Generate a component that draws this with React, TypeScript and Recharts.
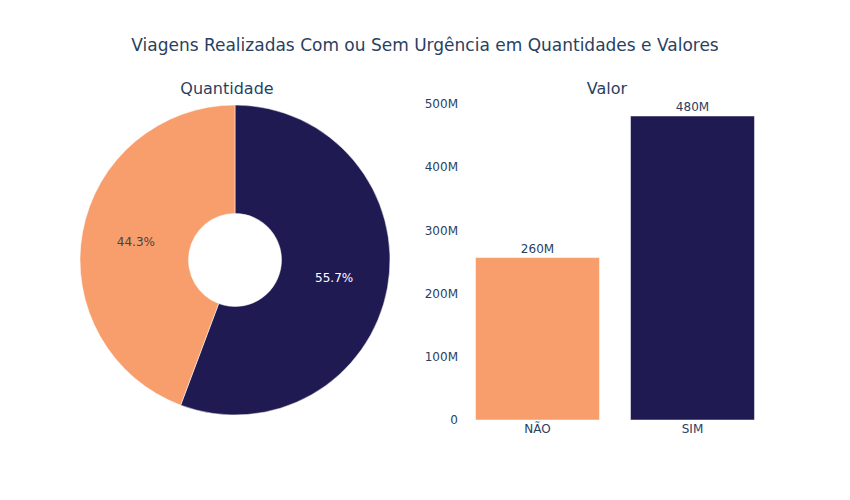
import React from "react";
import { PieChart, Pie, Cell, BarChart, Bar, XAxis, YAxis, LabelList } from "recharts";

const categories = ["SIM", "NÃO"];
const quantityShare = [55.7, 44.3];
const barCategories = ["NÃO", "SIM"];
const barValues = [257e6, 481e6];
const yTicks = [0, 100e6, 200e6, 300e6, 400e6, 500e6];

const NAVY = "#1f1a51";
const ORANGE = "#f89e6c";
const TEXT = "#2a3f5f";
const FONT = "'DejaVu Sans', Verdana, sans-serif";

const colorFor = (c: string) => (c === "SIM" ? NAVY : ORANGE);

const pieData = categories.map((c, i) => ({ name: c, value: quantityShare[i] }));
const barData = barCategories.map((c, i) => ({ name: c, value: barValues[i] }));

const RAD = Math.PI / 180;
const renderPieLabel = (p: any) => {
  const { cx, cy, midAngle, innerRadius, outerRadius, percent, index } = p;
  const r = (innerRadius + outerRadius) / 2;
  const x = cx + r * Math.cos(-midAngle * RAD);
  const y = cy + r * Math.sin(-midAngle * RAD);
  const name = pieData[index].name;
  return (
    <text
      x={x}
      y={y}
      textAnchor="middle"
      dominantBaseline="central"
      fill={name === "SIM" ? "#ffffff" : "#444444"}
      fontSize={12}
      fontFamily={FONT}
    >
      {(percent * 100).toFixed(1) + "%"}
    </text>
  );
};

const fmtTick = (v: number) => (v === 0 ? "0" : v / 1e6 + "M");
const fmtLabel = (v: any) => Number((Number(v) / 1e6).toPrecision(2)) + "M";

export default function App() {
  return (
    <div style={{ position: "absolute", left: 0, top: 0, width: 850, height: 500, background: "#fff", fontFamily: FONT }}>
      <div style={{ position: "absolute", left: 0, top: 0 }}>
        <PieChart width={850} height={500} margin={{ top: 0, right: 0, bottom: 0, left: 0 }}>
          <Pie
            data={pieData}
            dataKey="value"
            nameKey="name"
            cx={235}
            cy={260}
            innerRadius={46.5}
            outerRadius={155}
            startAngle={90}
            endAngle={-270}
            stroke="#ffffff"
            strokeWidth={0.5}
            label={renderPieLabel}
            labelLine={false}
            isAnimationActive={false}
          >
            {pieData.map((d) => (
              <Cell key={d.name} fill={colorFor(d.name)} />
            ))}
          </Pie>
        </PieChart>
      </div>
      <div style={{ position: "absolute", left: 0, top: 0 }}>
        <BarChart
          width={850}
          height={500}
          data={barData}
          margin={{ top: 104, right: 80, bottom: 50, left: 400 }}
          barCategoryGap="10%"
        >
          <XAxis
            dataKey="name"
            axisLine={false}
            tickLine={false}
            height={30}
            tickSize={0}
            tickMargin={4}
            tick={{ fill: TEXT, fontSize: 12, fontFamily: FONT }}
          />
          <YAxis
            domain={[0, 500e6]}
            ticks={yTicks}
            tickFormatter={fmtTick}
            axisLine={false}
            tickLine={false}
            width={60}
            tickSize={0}
            tickMargin={2}
            tick={{ fill: TEXT, fontSize: 12, fontFamily: FONT }}
          />
          <Bar dataKey="value" isAnimationActive={false} stroke="#ffffff" strokeWidth={0.5}>
            {barData.map((d) => (
              <Cell key={d.name} fill={colorFor(d.name)} />
            ))}
            <LabelList
              dataKey="value"
              position="top"
              offset={5}
              formatter={fmtLabel}
              style={{ fill: TEXT, fontSize: 12, fontFamily: FONT }}
            />
          </Bar>
        </BarChart>
      </div>
      <svg width={850} height={500} style={{ position: "absolute", left: 0, top: 0, pointerEvents: "none" }}>
        <text x={425} y={51} textAnchor="middle" fill={TEXT} fontSize={17} fontFamily={FONT}>
          Viagens Realizadas Com ou Sem Urgência em Quantidades e Valores
        </text>
        <text x={227} y={94} textAnchor="middle" fill={TEXT} fontSize={16} fontFamily={FONT}>
          Quantidade
        </text>
        <text x={607} y={94} textAnchor="middle" fill={TEXT} fontSize={16} fontFamily={FONT}>
          Valor
        </text>
      </svg>
    </div>
  );
}
